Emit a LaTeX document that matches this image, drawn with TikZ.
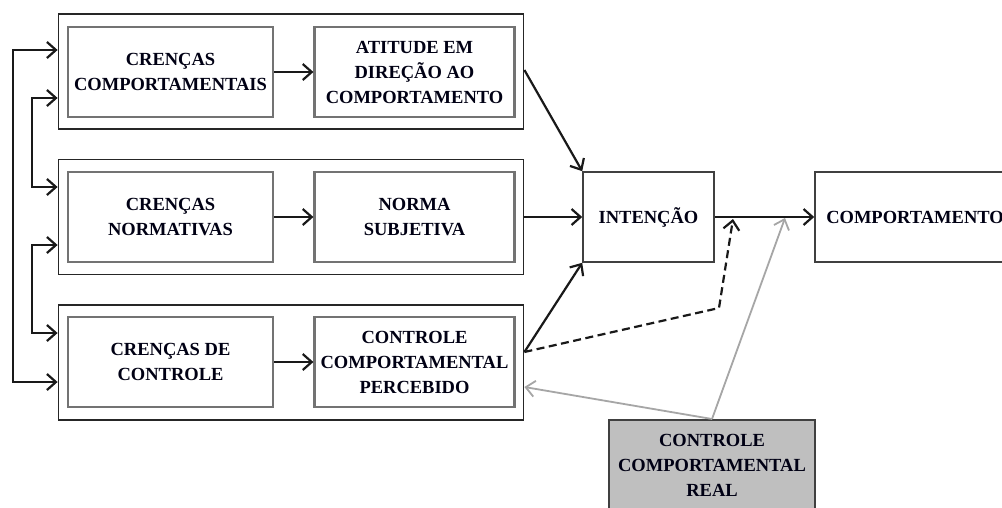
\documentclass[tikz,border=0pt]{standalone}
\usepackage{fontspec}
\setmainfont{Liberation Serif}
\usetikzlibrary{arrows.meta}
\tikzset{
  mybarb/.tip={Straight Barb[length=9pt,width=16pt,line width=2.2pt]},
  mygraybarb/.tip={Straight Barb[length=9pt,width=16pt,line width=1.8pt]}
}
\begin{document}
\begin{tikzpicture}[x=1pt,y=-1pt,
  txt/.style={font=\bfseries\fontsize{18.5}{25}\selectfont, align=center, text=black!92!blue},
  outerbox/.style={draw=black!85, line width=1.8pt, rectangle, minimum width=465pt, minimum height=115pt, inner sep=0pt},
  innerbox/.style={txt, draw=black!55, line width=2.2pt, rectangle, minimum height=90pt, inner sep=0pt},
  mainbox/.style={txt, draw=black!75, line width=1.6pt, rectangle, minimum height=90pt, inner sep=0pt},
  conn/.style={draw=black!90, line width=2.2pt, -{mybarb}},
  biconn/.style={draw=black!90, line width=2.2pt, {mybarb}-{mybarb}},
  grayconn/.style={draw=black!35, line width=1.8pt, -{mygraybarb}},
  dashconn/.style={conn, dash pattern=on 8pt off 4.5pt}]
\useasboundingbox (0,0) rectangle (1002,507);
\fill[white] (0,0) rectangle (1002,507);

% outer boxes
\node[outerbox] (o1) at (291,71.5) {};
\node[outerbox] (o2) at (291,217) {};
\node[outerbox] (o3) at (291,362.5) {};

% inner boxes
\node[innerbox, minimum width=205pt] (a) at (170.5,72) {CRENÇAS\\COMPORTAMENTAIS};
\node[innerbox, minimum width=200pt] (b) at (414.5,72) {ATITUDE EM\\DIREÇÃO AO\\COMPORTAMENTO};
\node[innerbox, minimum width=205pt] (c) at (170.5,217) {CRENÇAS\\NORMATIVAS};
\node[innerbox, minimum width=200pt] (d) at (414.5,217) {NORMA\\SUBJETIVA};
\node[innerbox, minimum width=205pt] (e) at (170.5,362) {CRENÇAS DE\\CONTROLE};
\node[innerbox, minimum width=200pt] (f) at (414.5,362) {CONTROLE\\COMPORTAMENTAL\\PERCEBIDO};

% intention and behaviour
\node[mainbox, minimum width=131pt] (int) at (648.5,217) {INTENÇÃO};
\node[mainbox, minimum width=200pt, text width=200pt] (comp) at (915,217) {COMPORTAMENTO};

% real control
\node[txt, draw=black!75, fill=black!25, line width=1.6pt, rectangle, minimum width=206pt, minimum height=92pt, inner sep=0pt, anchor=north] (real) at (712,419) {CONTROLE\\COMPORTAMENTAL\\REAL};

% left feedback lines
\draw[biconn] (o1.west |- 0,50) -- (13,50) -- (13,382) -- (o3.west |- 0,382);
\draw[biconn] (o1.west |- 0,98) -- (32,98) -- (32,187) -- (o2.west |- 0,187);
\draw[biconn] (o2.west |- 0,245) -- (32,245) -- (32,333) -- (o3.west |- 0,333);

% inner arrows
\draw[conn] (a) -- (b);
\draw[conn] (c) -- (d);
\draw[conn] (e) -- (f);

% to intention
\draw[conn] (o1.east |- 0,70) -- (int.north west);
\draw[conn] (o2.east |- int.west) -- (int.west);
\draw[conn] (o3.east |- 0,352) -- (int.south west);

% intention to behaviour
\coordinate (j1) at (733,217);
\coordinate (j2) at (785,217);
\draw[conn] (int.east) -- (comp.west);

% dashed PBC to behaviour
\coordinate (dk) at (719,308);
\draw[dashconn] (o3.east |- 0,352) -- (dk) -- ([yshift=-2pt]j1);

% actual control (gray)
\draw[grayconn] (real.north) -- (o3.east |- 0,387);
\draw[grayconn] (real.north) -- ([yshift=-1pt]j2);
\end{tikzpicture}
\end{document}
